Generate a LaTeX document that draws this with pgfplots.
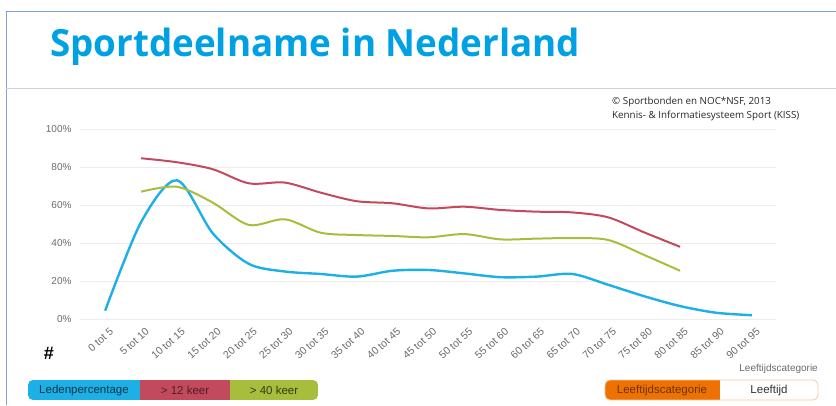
\documentclass[border=0pt]{standalone}
\usepackage{fontspec}
\setmainfont{Liberation Sans}
\newfontfamily\titlefont{Open Sans}
\usepackage{pgfplots}
\pgfplotsset{compat=1.18}
\definecolor{cblue}{HTML}{1DB0E6}
\definecolor{cred}{HTML}{C24A5C}
\definecolor{cgreen}{HTML}{A7BE3C}
\definecolor{ctitle}{HTML}{00A1E4}
\definecolor{corange}{HTML}{EE7203}
\definecolor{slideblue}{HTML}{7FA3D6}
\definecolor{labgray}{HTML}{6A6A6A}
\begin{document}
\begin{tikzpicture}
\useasboundingbox (0pt,0pt) rectangle (836pt,405pt);
% slide frame
\draw[slideblue, line width=1pt] (6pt,0pt) -- (6pt,393pt) -- (836pt,393pt);
\draw[gray!35, line width=0.8pt] (6pt,317pt) -- (836pt,317pt);
% title
\node[anchor=base west, inner sep=0, text=ctitle] at (50pt,348pt)
  {\resizebox{530pt}{28.5pt}{\titlefont\bfseries Sportdeelname in Nederland}};
% copyright
\node[anchor=base west, inner sep=0, font=\titlefont\fontsize{9.8}{11}\selectfont, text=black!85] at (612pt,300pt)
  {\textcopyright{} Sportbonden en NOC*NSF, 2013};
\node[anchor=base west, inner sep=0, font=\titlefont\fontsize{9.8}{11}\selectfont, text=black!85] at (612pt,286pt)
  {Kennis- \& Informatiesysteem Sport (KISS)};
\begin{axis}[
  at={(80pt,86pt)}, anchor=south west, scale only axis,
  width=696pt, height=190pt,
  xmin=-0.7, xmax=18.67, ymin=0, ymax=100,
  axis line style={draw=none}, tick style={draw=none},
  ymajorgrids, grid style={gray!15, line width=0.8pt},
  ytick={0,20,40,60,80,100},
  yticklabel={\pgfmathprintnumber{\tick}\%},
  yticklabel style={font=\fontsize{10}{10}\selectfont, text=labgray, xshift=-5pt},
  xtick={0,...,18},
  xticklabels={0 tot 5,5 tot 10,10 tot 15,15 tot 20,20 tot 25,25 tot 30,30 tot 35,35 tot 40,40 tot 45,45 tot 50,50 tot 55,55 tot 60,60 tot 65,65 tot 70,70 tot 75,75 tot 80,80 tot 85,85 tot 90,90 tot 95},
  xticklabel style={rotate=42, anchor=north east, font=\fontsize{10.5}{11}\selectfont, text=labgray, yshift=-5pt, xshift=1pt},
  /pgf/number format/assume math mode=true,
  clip=false,
]
\addplot[cblue, line width=2.4pt, smooth] coordinates {
(0,4.4)(1,51)(2,73)(3,45)(4,29)(5,25)(6,23.7)(7,22.3)(8,25.4)(9,25.8)(10,24)(11,22)(12,22.3)(13,23.7)(14,18)(15,12)(16,6.8)(17,3.3)(18,2)};
\addplot[cred, line width=2pt, smooth] coordinates {
(1,84.6)(2,82.5)(3,78.8)(4,71.4)(5,71.8)(6,66.5)(7,62)(8,60.9)(9,58.2)(10,59.1)(11,57.4)(12,56.5)(13,56.1)(14,53.5)(15,45.6)(16,38)};
\addplot[cgreen, line width=2pt, smooth] coordinates {
(1,67)(2,69.6)(3,61.2)(4,49.5)(5,52.5)(6,45.4)(7,44.2)(8,43.7)(9,43)(10,44.7)(11,41.9)(12,42.3)(13,42.6)(14,41.6)(15,33.7)(16,25.4)};
\end{axis}
% hash
\node[font=\bfseries\fontsize{18}{18}\selectfont] at (49pt,52pt) {\#};
% axis title
\node[anchor=base east, inner sep=0, font=\fontsize{10}{10}\selectfont, text=labgray] at (818pt,34pt) {Leeftijdscategorie};
% buttons left
\begin{scope}
\clip[rounded corners=5pt] (28pt,5pt) rectangle (318pt,25pt);
\fill[cblue] (28pt,5pt) rectangle (140pt,25pt);
\fill[cred] (140pt,5pt) rectangle (230pt,25pt);
\fill[cgreen] (230pt,5pt) rectangle (318pt,25pt);
\end{scope}
\node[font=\fontsize{11.5}{12}\selectfont, text=black!70!cblue] at (84pt,14.5pt) {Ledenpercentage};
\node[font=\fontsize{11.5}{12}\selectfont, text=black!60!cred] at (185pt,14.5pt) {> 12 keer};
\node[font=\fontsize{11.5}{12}\selectfont, text=black!70!cgreen] at (274pt,14.5pt) {> 40 keer};
% buttons right
\begin{scope}
\clip[rounded corners=5pt] (605pt,5pt) rectangle (818pt,25pt);
\fill[corange] (605pt,5pt) rectangle (720pt,25pt);
\fill[white] (720pt,5pt) rectangle (818pt,25pt);
\end{scope}
\draw[rounded corners=5pt, corange!40, line width=0.8pt] (605pt,5pt) rectangle (818pt,25pt);
\node[font=\fontsize{11.5}{12}\selectfont, text=black!55!corange] at (662pt,14.5pt) {Leeftijdscategorie};
\node[font=\fontsize{11.5}{12}\selectfont, text=black!80] at (769pt,14.5pt) {Leeftijd};
\end{tikzpicture}
\end{document}
